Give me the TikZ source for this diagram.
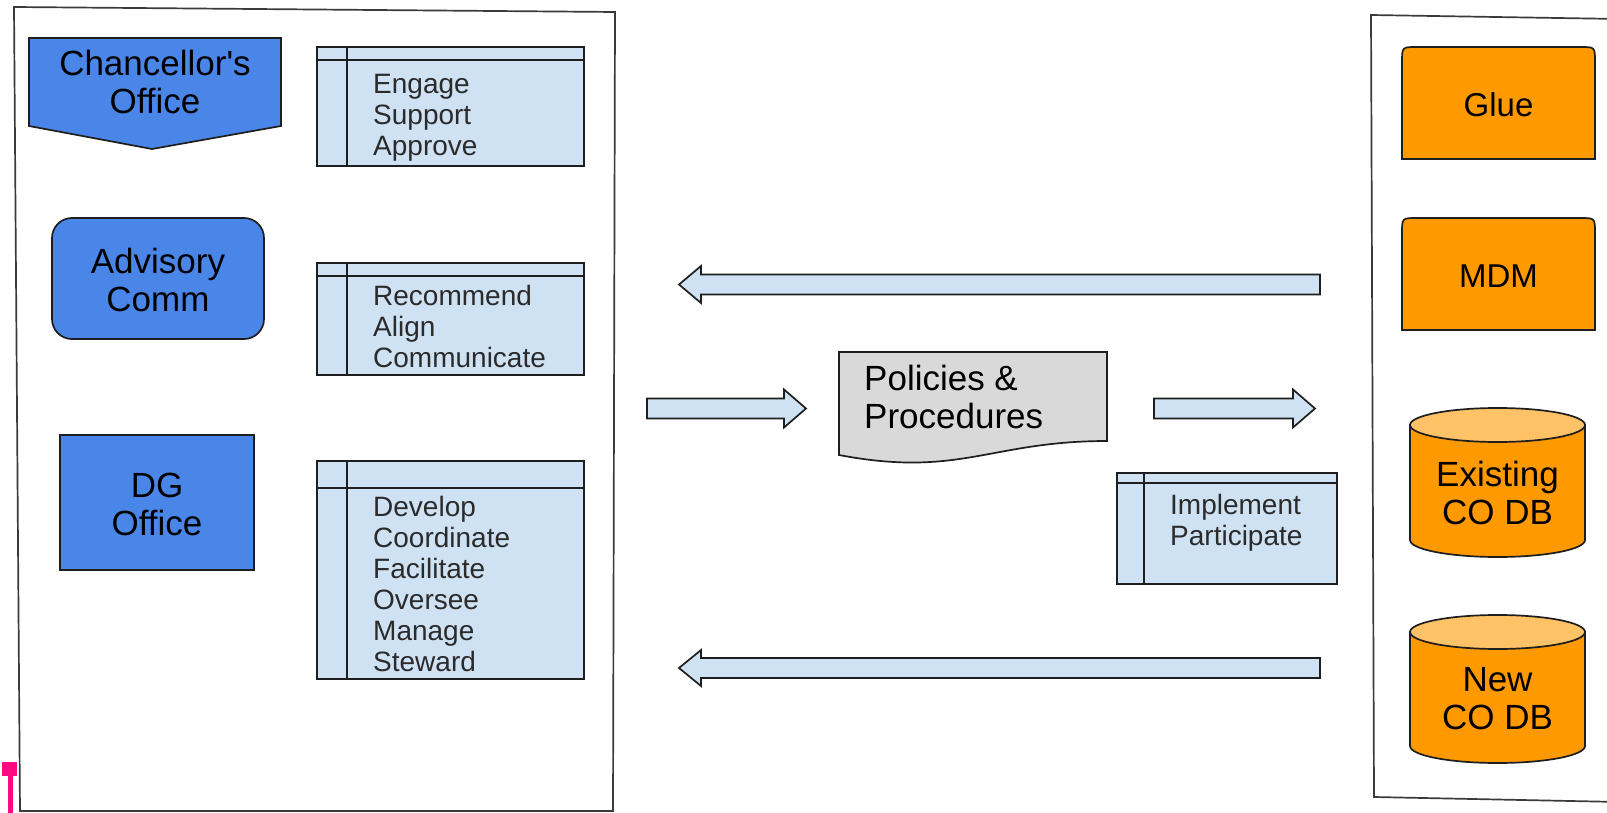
\documentclass[tikz,border=0pt]{standalone}
\usepackage{fontspec}
\setmainfont{Liberation Sans}
\definecolor{bluefill}{HTML}{4A86E8}
\definecolor{lightblue}{HTML}{CFE2F3}
\definecolor{orangefill}{HTML}{FF9900}
\definecolor{cyltop}{HTML}{FFC266}
\definecolor{docgray}{HTML}{D9D9D9}
\definecolor{linec}{HTML}{1E1E1E}
\definecolor{framec}{HTML}{3A3A3A}
\definecolor{txtgray}{HTML}{2B2B2B}
\definecolor{markpink}{HTML}{FF0A82}
\begin{document}
\begin{tikzpicture}[x=1pt,y=-1pt,
  ln/.style={draw=linec, line width=1.7pt},
  framestyle/.style={draw=framec, line width=1.7pt},
  bigtext/.style={font=\fontsize{35}{38}\selectfont, align=center, text=black, inner sep=0pt},
  smalltext/.style={font=\fontsize{28}{31}\selectfont, align=left, text=txtgray, inner sep=0pt, anchor=west},
  bluebox/.style={ln, fill=bluefill, rectangle, inner sep=0pt},
  storebox/.style={ln, fill=lightblue, rectangle, inner sep=0pt},
  bigarrow/.style={ln, fill=lightblue},
  orangebox/.style={ln, fill=orangefill}
]
\useasboundingbox (0,0) rectangle (1607,813);
\fill[white] (0,0) rectangle (1607,813);

% frames
\draw[framestyle] (14,7) -- (615,12) -- (613,811) -- (20,811) -- cycle;
\draw[framestyle] (1620,19) -- (1371,15) -- (1374,797) -- (1620,802);

% pink marker
\fill[markpink] (2,762) rectangle (17,776);
\fill[markpink] (7.5,775) rectangle (12.5,813);

% Chancellor's Office
\path[ln, fill=bluefill] (29,38) -- (281,38) -- (281,126) -- (152,149) -- (29,126) -- cycle;
\node[bigtext] (chanc) at (155,82) {Chancellor\textquotesingle s\\Office};

% Advisory Comm
\node[bluebox, rounded corners=20pt, minimum width=212pt, minimum height=121pt] (advbox) at (158,278.5) {};
\node[bigtext] (adv) at (158,280) {Advisory\\Comm};

% DG Office
\node[bluebox, minimum width=194pt, minimum height=135pt] (dgbox) at (157,502.5) {};
\node[bigtext] (dg) at (157,504) {DG\\Office};

% storage boxes left
\node[storebox, minimum width=267pt, minimum height=119pt] (engbox) at (450.5,106.5) {};
\draw[ln] ([yshift=-14pt]engbox.north west) -- ([yshift=-14pt]engbox.north east);
\draw[ln] ([xshift=31pt]engbox.north west) -- ([xshift=31pt]engbox.south west);
\node[smalltext] (eng) at (373,118) {Engage\\Support\\Approve};

\node[storebox, minimum width=267pt, minimum height=112pt] (recbox) at (450.5,319) {};
\draw[ln] ([yshift=-14pt]recbox.north west) -- ([yshift=-14pt]recbox.north east);
\draw[ln] ([xshift=31pt]recbox.north west) -- ([xshift=31pt]recbox.south west);
\node[smalltext] (rec) at (373,326) {Recommend\\Align\\Communicate};

\node[storebox, minimum width=267pt, minimum height=218pt] (devbox) at (450.5,570) {};
\draw[ln] ([yshift=-28pt]devbox.north west) -- ([yshift=-28pt]devbox.north east);
\draw[ln] ([xshift=31pt]devbox.north west) -- ([xshift=31pt]devbox.south west);
\node[smalltext] (dev) at (373,584) {Develop\\Coordinate\\Facilitate\\Oversee\\Manage\\Steward};

% Implement box
\node[storebox, minimum width=220pt, minimum height=111pt] (impbox) at (1227,528.5) {};
\draw[ln] ([yshift=-11pt]impbox.north west) -- ([yshift=-11pt]impbox.north east);
\draw[ln] ([xshift=28pt]impbox.north west) -- ([xshift=28pt]impbox.south west);
\node[smalltext] (imp) at (1170,523) {Implement\\Participate};

% Policies document
\path[ln, fill=docgray] (839,352) -- (1107,352) -- (1107,441) .. controls (990,441) and (960,478) .. (839,455) -- cycle;
\node[bigtext, anchor=west, align=left] (pol) at (864,397) {Policies \&\\Procedures};

% arrows
\path[bigarrow] (1320,274.5) -- (701,274.5) -- (701,266) -- (679,284.5) -- (701,303) -- (701,294.5) -- (1320,294.5) -- cycle;
\path[bigarrow] (1320,658) -- (701,658) -- (701,650) -- (679,668) -- (701,686) -- (701,678) -- (1320,678) -- cycle;
\path[bigarrow] (647,398.5) -- (784,398.5) -- (784,389.5) -- (806,408.5) -- (784,427.5) -- (784,418.5) -- (647,418.5) -- cycle;
\path[bigarrow] (1154,398.5) -- (1293,398.5) -- (1293,389.5) -- (1315,408.5) -- (1293,427.5) -- (1293,418.5) -- (1154,418.5) -- cycle;

% Glue and MDM
\path[orangebox] (1402,159) -- (1402,62) .. controls (1402,47) .. (1417,47) -- (1580,47) .. controls (1595,47) .. (1595,62) -- (1595,159) -- cycle;
\node[bigtext, font=\fontsize{33}{38}\selectfont] (glue) at (1498.5,105) {Glue};
\path[orangebox] (1402,330) -- (1402,233) .. controls (1402,218) .. (1417,218) -- (1580,218) .. controls (1595,218) .. (1595,233) -- (1595,330) -- cycle;
\node[bigtext, font=\fontsize{33}{38}\selectfont] (mdm) at (1498.5,276) {MDM};

% cylinders
\path[orangebox] (1410,425) -- (1410,540) arc[start angle=180, end angle=360, x radius=87.5pt, y radius=17pt] -- (1585,425) -- cycle;
\path[ln, fill=cyltop] (1497.5,425) ellipse [x radius=87.5pt, y radius=17pt];
\node[bigtext] (exist) at (1497.5,493) {Existing\\CO DB};

\path[orangebox] (1410,632) -- (1410,746) arc[start angle=180, end angle=360, x radius=87.5pt, y radius=17pt] -- (1585,632) -- cycle;
\path[ln, fill=cyltop] (1497.5,632) ellipse [x radius=87.5pt, y radius=17pt];
\node[bigtext] (newdb) at (1497.5,699) {New\\CO DB};
\end{tikzpicture}
\end{document}
